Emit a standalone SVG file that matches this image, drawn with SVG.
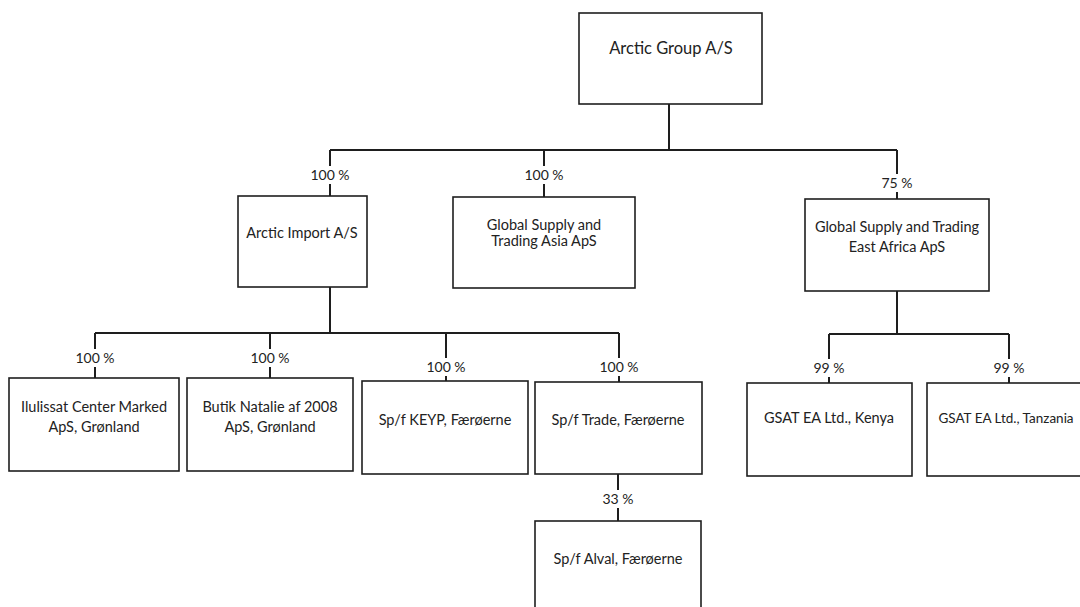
<svg xmlns="http://www.w3.org/2000/svg" width="1080" height="607" viewBox="0 0 1080 607">
<style>
.box{fill:#fff;stroke:#1e1e1e;stroke-width:1.6}
.ln{fill:none;stroke:#1e1e1e;stroke-width:2}
text{font-family:Lato,"Liberation Sans",sans-serif;font-size:14.5px;fill:#222;text-anchor:middle}
.pct{font-size:14px}
.lbl{fill:#fff;stroke:none}
</style>
<rect width="1080" height="607" fill="#fff"/>
<g id="connectors">
<path class="ln" d="M669,104V150M330,150H897M330,150V196M544,150V197M897,150V199"/>
<path class="ln" d="M330,287V333M95,333H619M95,333V378M270,333V378M446,333V381M619,333V382"/>
<path class="ln" d="M897,291V334M829,334H1009M829,334V383M1009,334V383"/>
<path class="ln" d="M618,474V521"/>
<g>
<rect class="lbl" x="307" y="166" width="46" height="18"/><text class="pct" x="330" y="180">100 %</text>
<rect class="lbl" x="521" y="166" width="46" height="18"/><text class="pct" x="544" y="180">100 %</text>
<rect class="lbl" x="878" y="174" width="38" height="18"/><text class="pct" x="897" y="188">75 %</text>
<rect class="lbl" x="72" y="349" width="46" height="18"/><text class="pct" x="95" y="363">100 %</text>
<rect class="lbl" x="247" y="349" width="46" height="18"/><text class="pct" x="270" y="363">100 %</text>
<rect class="lbl" x="423" y="358" width="46" height="18"/><text class="pct" x="446" y="372">100 %</text>
<rect class="lbl" x="596" y="358" width="46" height="18"/><text class="pct" x="619" y="372">100 %</text>
<rect class="lbl" x="810" y="359" width="38" height="18"/><text class="pct" x="829" y="373">99 %</text>
<rect class="lbl" x="990" y="359" width="38" height="18"/><text class="pct" x="1009" y="373">99 %</text>
<rect class="lbl" x="599" y="490" width="38" height="18"/><text class="pct" x="618" y="504">33 %</text>
</g>
</g>
<g id="arctic-group"><rect class="box" x="579" y="13" width="183" height="91"/><text x="671" y="54" style="font-size:16.5px">Arctic Group A/S</text></g>
<g id="arctic-import"><rect class="box" x="238" y="196" width="129" height="91"/><text x="302" y="238">Arctic Import A/S</text></g>
<g id="gst-asia"><rect class="box" x="453" y="197" width="182" height="91"/><text x="544" y="230">Global Supply and</text><text x="544" y="246">Trading Asia ApS</text></g>
<g id="gst-east-africa"><rect class="box" x="805" y="199" width="184" height="92"/><text x="897" y="232">Global Supply and Trading</text><text x="897" y="252">East Africa ApS</text></g>
<g id="ilulissat"><rect class="box" x="9" y="378" width="170" height="93"/><text x="94" y="412">Ilulissat Center Marked</text><text x="94" y="432">ApS, Grønland</text></g>
<g id="butik-natalie"><rect class="box" x="187" y="378" width="166" height="93"/><text x="270" y="412">Butik Natalie af 2008</text><text x="270" y="432">ApS, Grønland</text></g>
<g id="keyp"><rect class="box" x="362" y="381" width="166" height="93"/><text x="445" y="425">Sp/f KEYP, Færøerne</text></g>
<g id="trade"><rect class="box" x="535" y="382" width="167" height="92"/><text x="618" y="425">Sp/f Trade, Færøerne</text></g>
<g id="kenya"><rect class="box" x="747" y="383" width="165" height="93"/><text x="829" y="423">GSAT EA Ltd., Kenya</text></g>
<g id="tanzania"><rect class="box" x="927" y="383" width="165" height="93"/><text x="1006" y="423" style="font-size:13.5px">GSAT EA Ltd., Tanzania</text></g>
<g id="alval"><rect class="box" x="535" y="521" width="166" height="100"/><text x="618" y="564">Sp/f Alval, Færøerne</text></g>
</svg>
